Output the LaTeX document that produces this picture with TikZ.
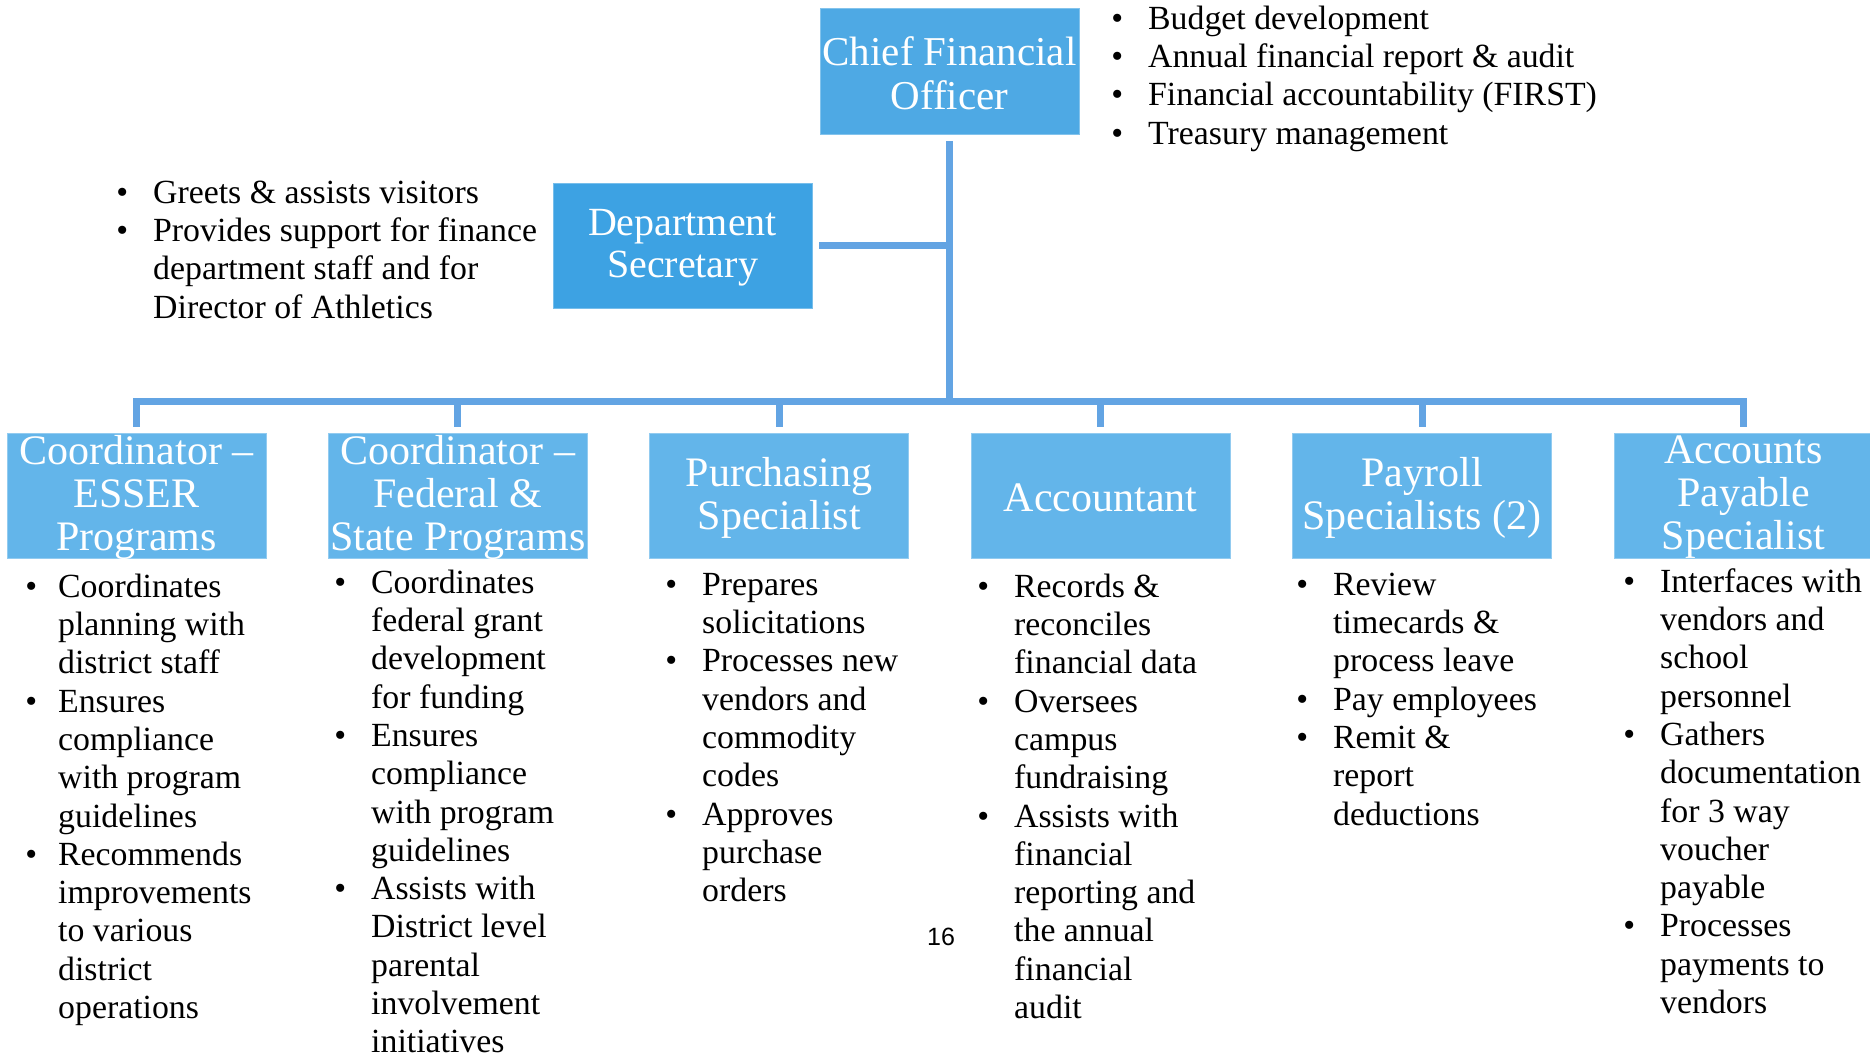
\documentclass[tikz,border=0pt]{standalone}
\usepackage{fontspec}
\setmainfont{Liberation Serif}
\newfontfamily\numfont{Liberation Sans}
\definecolor{cfoblue}{RGB}{78,169,228}
\definecolor{secblue}{RGB}{61,162,227}
\definecolor{boxblue}{RGB}{99,181,234}
\definecolor{lineblue}{RGB}{99,164,227}
\newcommand\bul[1][25pt]{\strut\llap{\textbullet\hspace{#1}}}
\tikzset{
  box/.style={rectangle, minimum width=259pt, minimum height=125pt, inner sep=0pt, outer sep=0pt},
  boxtext/.style={text=white, align=center, inner sep=0pt, yshift=-2pt, font=\fontsize{42}{43}\selectfont},
  blist/.style={anchor=north west, yshift=26.81pt, align=left, inner sep=0pt, font=\fontsize{33.8}{38.3}\selectfont, text=black},
  conn/.style={draw=lineblue, line width=7pt},
}
\begin{document}
\begin{tikzpicture}[x=1pt,y=-1pt]
\useasboundingbox[fill=white] (0,0) rectangle (1870,1055);

% boxes
\node[box, fill=cfoblue, draw=cfoblue!70!white, line width=1pt, minimum height=126pt] (cfo) at (949.5,71) {};
\node[boxtext, font=\fontsize{41}{44}\selectfont] (cfot) at (cfo.center) {Chief Financial\\Officer};
\node[box, fill=secblue, draw=secblue!70!white, line width=1pt] (sec) at (682.5,245.5) {};
\node[boxtext, font=\fontsize{40}{42}\selectfont] (sect) at (sec.center) {Department\\Secretary};

\foreach \i/\t in {1/{Coordinator --\\ESSER\\Programs},2/{Coordinator --\\Federal \&\\State Programs},3/{Purchasing\\Specialist},4/{Accountant},5/{Payroll\\Specialists (2)},6/{Accounts\\Payable\\Specialist}}{
  \node[box, fill=boxblue, draw=boxblue!70!white, line width=1pt] (b\i) at ({136.5+321.4*(\i-1)},495.5) {};
  \node[boxtext] (bt\i) at (b\i.center) {\t};
}

% connectors
\coordinate (bar) at (949.5,401);
\draw[conn, shorten <=7pt] (cfo.south) -- (cfo.south |- bar);
\draw[conn, shorten <=7pt] (sec.east) -- (sec.east -| cfo.south);
\draw[conn, line cap=rect] (b1.north |- bar) -- (b6.north |- bar);
\foreach \i in {1,...,6}{
  \draw[conn, shorten >=6pt] (b\i.north |- bar) -- (b\i.north);
}

% bullet lists
\node[blist] (cfol) at (1148,29) {\bul Budget development\\\bul Annual financial report \& audit\\\bul Financial accountability (FIRST)\\\bul Treasury management};
\node[blist] (secl) at (153,203) {\bul Greets \& assists visitors\\\bul Provides support for finance\\department staff and for\\Director of Athletics};

\node[blist] (l1) at (58,597) {\bul[21pt]Coordinates\\planning with\\district staff\\\bul[21pt]Ensures\\compliance\\with program\\guidelines\\\bul[21pt]Recommends\\improvements\\to various\\district\\operations};
\node[blist] (l2) at (371,593) {\bul Coordinates\\federal grant\\development\\for funding\\\bul Ensures\\compliance\\with program\\guidelines\\\bul Assists with\\District level\\parental\\involvement\\initiatives};
\node[blist] (l3) at (702,595) {\bul Prepares\\solicitations\\\bul Processes new\\vendors and\\commodity\\codes\\\bul Approves\\purchase\\orders};
\node[blist] (l4) at (1014,597) {\bul Records \&\\reconciles\\financial data\\\bul Oversees\\campus\\fundraising\\\bul Assists with\\financial\\reporting and\\the annual\\financial\\audit};
\node[blist] (l5) at (1333,595) {\bul Review\\timecards \&\\process leave\\\bul Pay employees\\\bul Remit \&\\report\\deductions};
\node[blist] (l6) at (1660,592) {\bul Interfaces with\\vendors and\\school\\personnel\\\bul Gathers\\documentation\\for 3 way\\voucher\\payable\\\bul Processes\\payments to\\vendors};

\node[anchor=base, inner sep=0pt, font=\numfont\fontsize{25}{30}\selectfont] (pg) at (941,945) {16};
\end{tikzpicture}
\end{document}
